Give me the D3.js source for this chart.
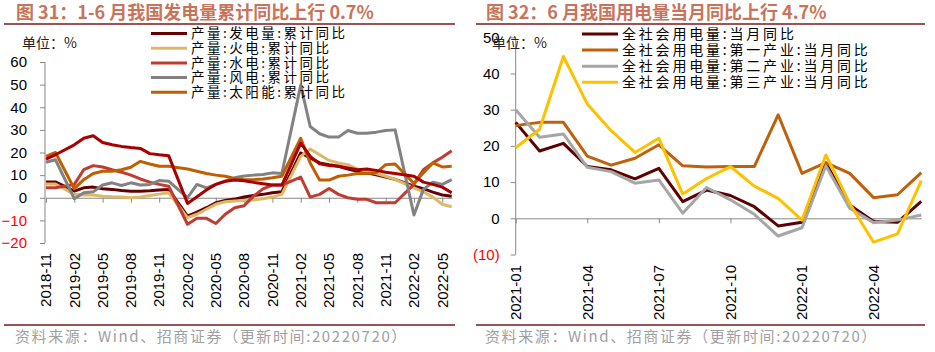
<!DOCTYPE html>
<html>
<head>
<meta charset="utf-8">
<script src="https://cdn.jsdelivr.net/npm/d3@7/dist/d3.min.js"></script>
<style>
  body { margin: 0; background: #fff; }
  .cjk { font-family: "Noto Sans CJK SC", "Noto Sans", sans-serif; }
</style>
</head>
<body>
<div id="chart"></div>
<script>

// ---- 图31: 发电量累计同比 (%), monthly, January not published ----
const genMonths = [
    "2018-11","2018-12",
    "2019-01","2019-02","2019-03","2019-04","2019-05","2019-06","2019-07","2019-08","2019-09","2019-10","2019-11","2019-12",
    "2020-01","2020-02","2020-03","2020-04","2020-05","2020-06","2020-07","2020-08","2020-09","2020-10","2020-11","2020-12",
    "2021-01","2021-02","2021-03","2021-04","2021-05","2021-06","2021-07","2021-08","2021-09","2021-10","2021-11","2021-12",
    "2022-01","2022-02","2022-03","2022-04","2022-05","2022-06"
];
const genTickLabels = ["2018-11","2019-02","2019-05","2019-08","2019-11","2020-02","2020-05",
    "2020-08","2020-11","2021-02","2021-05","2021-08","2021-11","2022-02","2022-05"];

const genTotal = [7.0, 7.0, null, 2.9, 4.4, 4.7, 4.0, 3.7, 3.2, 2.9, 2.9, 3.1, 3.4, 3.7,
    null, -8.1, -6.3, -4.4, -2.2, -1.2, -0.6, 0.3, 1.0, 1.5, 2.2, 2.7,
    null, 19.8, 17.6, 15.4, 14.6, 13.9, 12.7, 11.7, 11.0, 10.2, 9.2, 8.1,
    null, 5.1, 4.0, 2.5, 1.2, 0.7];
const genThermal = [6.1, 6.1, null, 1.5, 1.2, 1.2, 0.7, 0.4, 0.3, 0.0, 0.3, 1.0, 1.6, 2.2,
    null, -8.8, -7.3, -5.1, -2.9, -1.8, -1.4, -1.2, -1.0, -0.4, 0.3, 1.5,
    null, 18.3, 21.5, 19.0, 16.5, 15.4, 14.6, 12.7, 11.7, 10.7, 9.5, 8.1,
    null, 4.4, 2.6, 0.3, -2.9, -4.0];
const genHydro = [4.4, 4.4, null, 5.9, 12.4, 14.2, 13.6, 12.4, 11.3, 10.0, 8.3, 6.9, 5.9, 5.1,
    null, -11.7, -9.1, -9.1, -11.4, -7.3, -4.4, -3.5, 0.7, 3.9, 5.6, 5.6,
    null, 9.1, 0.3, 1.5, 4.1, 1.5, 0.0, -0.7, -0.7, -2.2, -2.2, -2.2,
    null, 5.9, 12.4, 15.4, 17.9, 20.8];
const genWind = [15.7, 16.8, null, -0.4, 2.2, 2.6, 5.6, 6.6, 5.4, 6.6, 5.6, 5.9, 7.6, 7.3,
    null, 0.0, 5.9, 4.4, 5.9, 7.3, 8.8, 9.6, 10.0, 10.3, 11.0, 10.7,
    null, 49.8, 31.5, 28.3, 26.8, 26.8, 29.7, 28.5, 28.5, 29.0, 29.7, 30.0,
    null, -7.6, 3.7, 6.9, 5.9, 8.0];
const genSolar = [18.3, 20.0, null, 4.0, 8.0, 10.7, 11.7, 11.7, 12.4, 13.5, 16.1, 14.9, 13.9, 13.9,
    null, 12.7, 11.7, 10.7, 10.0, 9.5, 8.5, 8.0, 8.0, 8.3, 8.8, 9.5,
    null, 26.3, 15.4, 7.8, 7.8, 9.5, 10.0, 10.7, 10.7, 11.0, 14.6, 14.9,
    null, 6.3, 11.0, 15.4, 13.6, 13.9];
// sixth series in the chart, not listed in its legend
const genNuclear = [17.1, 19.0, null, 23.4, 26.3, 27.4, 24.4, 23.4, 22.7, 22.2, 21.8, 19.5, 19.0, 18.6,
    null, -2.5, 0.4, 3.4, 5.9, 7.3, 7.8, 7.5, 6.8, 6.2, 5.6, 5.6,
    null, 24.1, 18.3, 15.0, 14.3, 13.9, 13.2, 12.4, 12.7, 12.1, 11.3, 10.7,
    null, 9.5, 6.9, 5.9, 4.7, 2.2];

// ---- 图32: 用电量当月同比 (%) ----
const useMonths = ["2021-01","2021-02","2021-03","2021-04","2021-05","2021-06","2021-07","2021-08","2021-09",
    "2021-10","2021-11","2021-12","2022-01","2022-02","2022-03","2022-04","2022-05","2022-06"];
const useTickLabels = ["2021-01","2021-04","2021-07","2021-10","2022-01","2022-04"];

const useTotal = [26.5, 18.6, 20.7, 14.3, 13.4, 10.9, 13.8, 4.6, 7.8, 6.3, 3.2, -2.1, -1.1, 15.2, 3.7, -0.9, -1.1, 4.7];
const usePrimary = [25.6, 26.5, 26.5, 17.2, 14.7, 16.6, 20.3, 14.5, 14.2, 14.3, 14.3, 28.6, 12.4, 15.4, 12.4, 5.7, 6.5, 12.6];
const useSecondary = [30.0, 22.4, 23.3, 14.1, 12.9, 9.7, 10.6, 1.4, 8.5, 5.1, 1.1, -4.9, -2.6, 14.5, 2.8, -1.2, -0.5, 0.9];
const useTertiary = [19.5, 24.6, 44.7, 31.6, 24.2, 18.2, 22.1, 6.7, 11.0, 14.3, 8.9, 5.5, -0.5, 17.5, 4.1, -6.6, -4.3, 10.4];


class LineChart {
    constructor(svg, opts) {
        this.svg = svg;
        this.opts = opts;
        this.initVis();
    }

    initVis() {
        const vis = this;
        const o = vis.opts;

        vis.g = vis.svg.append("g");

        // title + rules + source
        vis.g.append("text")
            .attr("class", "cjk")
            .attr("x", o.titleX)
            .attr("y", 19)
            .attr("fill", "#C8735A")
            .style("font-size", "18px")
            .style("font-weight", "bold")
            .text(o.title);

        [24, 325].forEach(y => {
            vis.g.append("line")
                .attr("x1", o.ruleX[0]).attr("x2", o.ruleX[1])
                .attr("y1", y).attr("y2", y)
                .attr("stroke", "#7B1A1A")
                .attr("stroke-width", 1.3);
        });

        vis.g.append("text")
            .attr("class", "cjk")
            .attr("x", o.titleX - 1)
            .attr("y", 337)
            .attr("dy", "0.35em")
            .attr("fill", "#A0A0A0")
            .style("font-size", "15px")
            .style("letter-spacing", "1.6px")
            .text("资料来源：Wind、招商证券（更新时间:20220720）");

        vis.x = d3.scaleLinear().domain([0, o.months.length - 1]).range(o.xRange);
        vis.y = d3.scaleLinear().domain(o.yDomain).range(o.yRange);

        // y axis
        const yAxis = d3.axisLeft(vis.y)
            .tickValues(d3.range(o.yDomain[0], o.yDomain[1] + 1, 10))
            .tickSize(5)
            .tickSizeOuter(0)
            .tickPadding(o.yPad)
            .tickFormat(o.yFormat);

        const ya = vis.g.append("g")
            .attr("transform", `translate(${o.xAxisAt},0)`)
            .call(yAxis);
        ya.attr("font-family", '"Liberation Sans", Arial, sans-serif').attr("font-size", 15);
        ya.selectAll("path, line").attr("stroke", "#888");
        ya.selectAll("text").attr("fill", d => d < 0 ? "#FF0000" : "#000");
        ya.select(".domain").attr("d", `M0,${vis.y(o.yDomain[0])}V${vis.y(o.yDomain[1])}`);

        // zero line with category ticks
        const tickIdx = o.tickLabels.map(t => o.months.indexOf(t));
        const xAxis = d3.axisBottom(vis.x)
            .tickValues(tickIdx)
            .tickSize(5)
            .tickSizeOuter(0)
            .tickFormat("");
        const xa = vis.g.append("g")
            .attr("transform", `translate(0,${vis.y(0)})`)
            .call(xAxis);
        xa.selectAll("path, line").attr("stroke", "#888");

        // rotated category labels at the bottom
        vis.g.selectAll("text.xlab")
            .data(tickIdx)
            .enter().append("text")
            .attr("class", "xlab")
            .attr("transform", d => `translate(${vis.x(d)},${o.xLabelY}) rotate(-90)`)
            .attr("dy", "0.35em")
            .attr("text-anchor", "end")
            .attr("font-family", '"Liberation Sans", Arial, sans-serif')
            .style("font-size", "15px")
            .attr("fill", "#000")
            .text(d => o.months[d]);

        // unit label
        vis.g.append("text")
            .attr("class", "cjk")
            .attr("x", o.unitX)
            .attr("y", 43)
            .attr("dy", "0.35em")
            .attr("fill", "#222")
            .style("font-size", "14px")
            .text("单位：%");

        vis.render();
        vis.drawLegend();
    }

    render() {
        const vis = this;
        const line = d3.line()
            .x(d => vis.x(d[0]))
            .y(d => vis.y(d[1]));

        vis.g.selectAll("path.series")
            .data(vis.opts.series)
            .enter().append("path")
            .attr("class", "series")
            .attr("fill", "none")
            .attr("stroke", d => d.color)
            .attr("stroke-width", 3)
            .attr("stroke-linejoin", "round")
            .attr("d", d => line(d.values.map((v, i) => [i, v]).filter(p => p[1] != null)));
    }

    drawLegend() {
        const vis = this;
        const lg = vis.opts.legend;
        const items = vis.opts.series.filter(s => s.name);

        const row = vis.g.selectAll("g.leg")
            .data(items)
            .enter().append("g")
            .attr("class", "leg")
            .attr("transform", (d, i) => `translate(${lg.x},${lg.y + i * lg.step})`);

        row.append("line")
            .attr("x1", 0).attr("x2", lg.len)
            .attr("stroke", d => d.color)
            .attr("stroke-width", 3);

        row.append("text")
            .attr("class", "cjk")
            .attr("x", lg.len + 4)
            .attr("dy", "0.35em")
            .attr("fill", "#000")
            .style("font-size", lg.font + "px")
            .style("letter-spacing", lg.spacing + "px")
            .text(d => d.name);
    }
}

const svg = d3.select("#chart").append("svg")
    .attr("width", 935)
    .attr("height", 352);

new LineChart(svg, {
    title: "图 31：1-6 月我国发电量累计同比上行 0.7%",
    titleX: 16,
    ruleX: [4, 455],
    months: genMonths,
    tickLabels: genTickLabels,
    xRange: [46, 451.7],
    xAxisAt: 45,
    yDomain: [-20, 60],
    yRange: [243, 62],
    yPad: 13,
    yFormat: d3.format("d"),
    xLabelY: 253,
    unitX: 22,
    legend: { x: 151, y: 33.5, step: 14.7, len: 36, font: 13.5, spacing: 2.5 },
    series: [
        { name: "产量:发电量:累计同比", color: "#660000", values: genTotal },
        { name: "产量:火电:累计同比", color: "#DBB966", values: genThermal },
        { name: "产量:水电:累计同比", color: "#C23B30", values: genHydro },
        { name: "产量:风电:累计同比", color: "#828282", values: genWind },
        { name: "产量:太阳能:累计同比", color: "#BF5F00", values: genSolar },
        { name: null, color: "#A80000", values: genNuclear }
    ]
});

new LineChart(svg, {
    title: "图 32：6 月我国用电量当月同比上行 4.7%",
    titleX: 486,
    ruleX: [476, 925],
    months: useMonths,
    tickLabels: useTickLabels,
    xRange: [515.7, 921.3],
    xAxisAt: 515.7,
    yDomain: [-10, 50],
    yRange: [254.5, 37.3],
    yPad: 11,
    yFormat: d => d < 0 ? `(${Math.abs(d)})` : d,
    xLabelY: 265,
    unitX: 492,
    legend: { x: 582, y: 34, step: 16.1, len: 36, font: 14, spacing: 2.8 },
    series: [
        { name: "全社会用电量:当月同比", color: "#5C0000", values: useTotal },
        { name: "全社会用电量:第一产业:当月同比", color: "#C0600A", values: usePrimary },
        { name: "全社会用电量:第二产业:当月同比", color: "#A6A6A6", values: useSecondary },
        { name: "全社会用电量:第三产业:当月同比", color: "#FFC000", values: useTertiary }
    ]
});

</script>
</body>
</html>
